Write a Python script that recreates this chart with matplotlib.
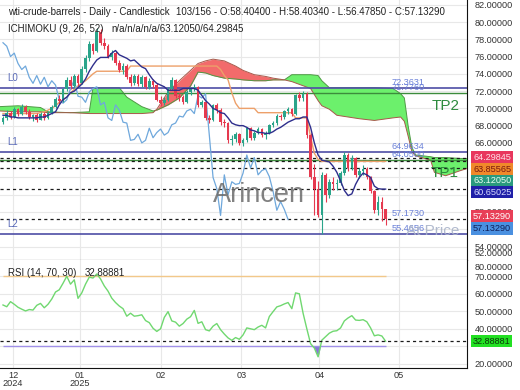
import numpy as np
import matplotlib
matplotlib.use("Agg")
import matplotlib.pyplot as plt

plt.rcParams["font.family"] = ["Liberation Sans", "DejaVu Sans"]

# -----------------------------
# Data (one entry per daily bar)
# -----------------------------
opens = [68.4, 68.9, 69.5, 69.0, 69.9, 69.3, 70.2, 69.6, 69.0, 69.2,
         68.7, 69.4, 68.9, 69.5, 70.2, 71.1, 70.8, 72.2, 73.3, 72.6,
         73.7, 72.9, 74.6, 75.8, 77.4, 76.6, 78.9, 77.6, 77.2, 76.0,
         76.4, 75.2, 74.5, 74.9, 73.6, 72.9, 73.8, 72.8, 73.6, 72.5,
         73.2, 72.7, 71.0, 70.6, 71.0, 72.3, 73.3, 71.4, 71.3, 70.7,
         71.9, 72.3, 72.5, 70.4, 70.7, 68.9, 68.6, 70.4, 69.8, 68.4,
         68.3, 66.3, 66.4, 67.0, 66.0, 66.3, 67.7, 66.6, 67.2, 67.6,
         66.9, 67.2, 68.1, 68.3, 69.1, 69.0, 69.7, 69.9, 69.4, 71.5,
         71.2, 71.7, 66.9, 62.0, 60.7, 57.6, 62.3, 60.0, 61.5, 61.2,
         61.3, 62.5, 64.6, 63.1, 64.3, 62.3, 62.8, 63.0, 62.1, 60.4,
         58.2, 59.2, 58.404]
highs = [69.1, 69.8, 69.7, 70.2, 70.1, 70.5, 70.4, 69.9, 69.4, 69.5,
         69.6, 69.6, 69.7, 70.4, 71.3, 71.5, 72.4, 73.6, 73.8, 74.0,
         74.0, 74.9, 76.2, 77.8, 77.6, 79.3, 79.2, 78.2, 77.5, 76.8,
         76.6, 75.6, 75.3, 75.1, 74.0, 74.0, 74.0, 73.9, 73.8, 73.5,
         73.4, 72.9, 71.4, 71.3, 72.5, 73.6, 73.4, 71.8, 71.5, 72.1,
         72.5, 72.8, 72.6, 71.0, 70.9, 69.2, 70.5, 70.6, 70.0, 68.8,
         68.4, 66.9, 67.3, 67.2, 66.6, 67.9, 67.8, 67.4, 67.9, 67.7,
         67.4, 68.2, 68.5, 69.3, 69.4, 69.8, 70.2, 70.1, 71.7, 71.9,
         72.0, 71.9, 67.1, 63.6, 61.6, 62.6, 62.5, 61.8, 62.0, 61.8,
         62.8, 64.9, 64.8, 64.6, 64.4, 63.1, 63.4, 63.2, 62.2, 60.6,
         59.8, 59.7, 58.404]
lows = [68.2, 68.7, 68.8, 68.9, 69.1, 69.2, 69.4, 68.8, 68.5, 68.4,
        68.6, 68.6, 68.8, 69.3, 70.0, 70.5, 70.7, 72.0, 72.3, 72.4,
        72.6, 72.8, 74.2, 75.5, 76.3, 76.5, 77.3, 76.9, 75.8, 75.6,
        75.0, 74.2, 74.0, 73.4, 72.6, 72.7, 72.6, 72.5, 72.3, 72.2,
        72.4, 70.8, 70.3, 70.4, 70.9, 72.1, 71.2, 70.9, 70.5, 70.6,
        71.6, 72.0, 70.2, 70.2, 68.7, 68.3, 68.5, 69.5, 68.1, 67.9,
        66.0, 65.8, 66.1, 65.7, 65.6, 66.1, 66.3, 66.3, 67.0, 66.7,
        66.5, 67.0, 67.9, 68.1, 68.6, 68.8, 69.4, 69.1, 69.2, 70.8,
        70.9, 66.6, 61.8, 57.6, 57.4, 55.4, 59.2, 59.6, 60.6, 60.6,
        61.1, 62.3, 62.8, 62.9, 62.1, 61.9, 62.3, 61.8, 60.2, 57.9,
        57.6, 57.0, 56.4785]
closes = [68.9, 69.5, 69.0, 69.9, 69.3, 70.2, 69.6, 69.0, 69.2, 68.7,
          69.4, 68.9, 69.5, 70.2, 71.1, 70.8, 72.2, 73.3, 72.6, 73.7,
          72.9, 74.6, 75.8, 77.4, 76.6, 78.9, 77.6, 77.2, 76.0, 76.4,
          75.2, 74.5, 74.9, 73.6, 72.9, 73.8, 72.8, 73.6, 72.5, 73.2,
          72.7, 71.0, 70.6, 71.0, 72.3, 73.3, 71.4, 71.3, 70.7, 71.9,
          72.3, 72.5, 70.4, 70.7, 68.9, 68.6, 70.4, 69.8, 68.4, 68.3,
          66.3, 66.4, 67.0, 66.0, 66.3, 67.7, 66.6, 67.2, 67.6, 66.9,
          67.2, 68.1, 68.3, 69.1, 69.0, 69.7, 69.9, 69.4, 71.5, 71.2,
          71.7, 66.9, 62.0, 60.7, 57.6, 62.3, 60.0, 61.5, 61.2, 61.3,
          62.5, 64.6, 63.1, 64.3, 62.3, 62.8, 63.0, 62.1, 60.4, 58.2,
          59.2, 58.3, 57.1329]

# Ichimoku lines
tenkan = [69.2, 69.2, 69.0, 69.0, 68.9, 68.9, 68.9, 68.9, 68.9, 68.9,
          69.0, 69.0, 69.2, 69.4, 69.6, 70.4, 71.0, 71.3, 71.8, 72.0,
          72.4, 72.8, 73.4, 74.3, 75.0, 75.6, 75.9, 75.9, 75.9, 76.4,
          76.7, 76.2, 76.0, 75.8, 75.5, 75.6, 75.2, 74.8, 74.6, 73.9,
          73.3, 72.9, 72.7, 72.5, 72.1, 72.1, 72.1, 72.1, 72.3, 72.3,
          72.3, 72.3, 72.1, 71.5, 70.9, 70.5, 70.0, 69.8, 69.5, 69.4,
          68.9, 68.3, 68.1, 68.0, 68.0, 67.8, 67.5, 67.4, 67.2, 67.2,
          67.1, 67.1, 67.3, 67.6, 67.8, 68.1, 68.4, 68.6, 68.8, 68.8,
          69.0, 69.0, 67.8, 66.0, 64.6, 64.0, 63.9, 63.8, 63.3, 62.6,
          61.6, 60.5, 59.9, 60.1, 61.2, 62.0, 62.5, 62.3, 62.0, 61.0,
          60.7, 60.65, 60.65]
kijun = [69.4, 69.4, 69.4, 69.4, 69.4, 69.4, 69.4, 69.4, 69.4, 69.4,
         69.5, 69.6, 69.8, 70.0, 70.3, 70.7, 71.0, 71.3, 71.8, 72.2,
         72.6, 72.9, 73.2, 73.6, 74.0, 74.3, 74.3, 74.3, 74.3, 74.3,
         74.3, 74.3, 74.3, 74.3, 74.9, 74.9, 74.9, 74.9, 74.9, 74.9,
         74.9, 74.9, 74.9, 74.9, 74.9, 74.9, 74.9, 74.9, 74.9, 74.9,
         74.9, 74.9, 74.9, 74.9, 74.9, 74.9, 74.9, 74.9, 74.5, 73.8,
         73.3, 71.8, 70.6, 70.0, 70.0, 70.0, 70.0, 70.0, 69.5, 69.5,
         69.5, 69.5, 69.5, 69.5, 69.5, 69.5, 69.5, 69.5, 68.9, 68.9,
         68.9, 68.9, 66.7, 64.8, 64.1, 63.86, 63.86, 63.86, 63.86, 63.86,
         63.86, 63.86, 63.86, 63.86, 63.86, 63.86, 63.86, 63.86, 63.86, 63.86,
         63.86, 63.86, 63.86]
chikou_shift = 26

# cloud (senkou spans), sampled at bar numbers, runs past the last bar
cloud_idx = [-1, 4, 10, 12, 18, 23, 24, 31, 33, 37,
             40, 41, 44, 47, 50, 52, 54, 56, 59, 62,
             64, 67, 70, 72, 75, 77, 82, 84, 85, 87,
             89, 95, 99, 104, 106, 107, 108, 109, 110, 114,
             115, 118, 122, 125]
span_a = [70.2, 70.3, 70.1, 69.6, 69.5, 69.6, 72.4, 72.4, 71.3, 70.2,
          69.7, 69.8, 70.4, 71.2, 72.6, 74.2, 74.1, 73.8, 73.5, 73.4,
          73.3, 73.2, 73.2, 73.3, 73.3, 73.9, 73.9, 73.8, 73.2, 72.4,
          72.4, 72.4, 72.4, 72.3, 71.7, 71.2, 68.0, 65.5, 64.6, 64.4,
          64.3, 64.3, 64.2, 64.2]
span_b = [69.7, 69.6, 69.6, 69.5, 69.5, 69.4, 69.4, 69.4, 69.4, 69.4,
          69.5, 69.9, 71.9, 73.2, 74.4, 75.2, 75.5, 75.7, 75.5, 74.9,
          74.4, 73.9, 73.7, 73.5, 73.3, 73.1, 72.3, 70.9, 70.3, 69.9,
          69.2, 68.8, 68.6, 68.9, 69.0, 68.5, 66.8, 65.0, 64.5, 64.0,
          62.6, 62.2, 62.8, 63.2]

rsi = [53.6, 52.6, 55.5, 54.0, 52.3, 51.2, 50.2, 51.0, 50.7, 53.4,
       54.5, 52.0, 54.0, 57.0, 61.0, 62.3, 66.0, 70.0, 65.5, 68.0,
       57.4, 60.5, 65.5, 69.5, 69.0, 71.3, 68.5, 64.5, 61.5, 57.5,
       55.0, 53.0, 51.5, 47.2, 48.9, 47.2, 47.5, 48.0, 44.7, 43.5,
       40.3, 38.5, 40.0, 46.5, 49.8, 44.5, 43.8, 41.5, 43.0, 45.5,
       46.9, 50.5, 43.1, 44.0, 39.5, 38.8, 41.5, 43.0, 39.5, 37.0,
       34.8, 33.4, 35.0, 34.0, 36.5, 40.5, 40.0, 39.5, 41.0, 42.0,
       40.5, 47.0, 49.8, 52.5, 53.2, 54.2, 55.0, 51.5, 60.5, 60.0,
       48.9, 40.0, 31.5, 29.0, 24.0, 33.5, 35.5, 37.5, 38.6, 38.9,
       40.5, 44.5, 46.2, 47.5, 45.0, 44.8, 45.2, 44.0, 40.5, 36.0,
       36.5, 35.9, 32.89]
rsi_last = 32.88881

# horizontal levels
level_names = ["L0", "L1", "L2"]
level_values = [72.3631, 64.9634, 55.4656]
tp_names = ["TP2", "TP1"]
tp_values = [71.7760, 64.0500]
at_price = 57.1730

# last indicator values (dashed lines + boxes on the price scale)
last_values = [64.29845, 63.85565, 63.12050, 60.65025, 57.13290, 57.13290]
last_colors = ["#e8365d", "#f0892a", "#2a9a7e", "#2020a8", "#e83f57", "#4a90e0"]
last_text = ["#ffe0e8", "#7a1a10", "#e8fff4", "#d8dcff", "#ffffff", "#10205a"]
last_nudge = [0, -8, -13, -3, 3, -9]

# price scale ticks; the ones under the value boxes are not printed
price_ticks = [54, 56, 58, 60, 62, 64, 66, 68, 70, 72, 74, 76, 78, 80, 82]
price_hidden = [56, 60, 62, 64]
rsi_ticks = [20, 30, 40, 50, 60, 70]
rsi_hidden = [30]

month_labels = ["12\n2024", "01\n2025", "02", "03", "04", "05"]
month_pos = [2.7, 20.5, 42.1, 63.5, 84.3, 105.6]

GREEN = "#2aa48a"
RED = "#e5394f"

# -----------------------------
# Figure layout
# -----------------------------
fig = plt.figure(figsize=(5.2, 3.9), dpi=100)
ax = fig.add_axes([0, 130 / 390, 467 / 520, 260 / 390])
ax2 = fig.add_axes([0, 22 / 390, 467 / 520, 108 / 390], sharex=ax)

idx = np.arange(len(closes))
o = np.array(opens)
h = np.array(highs)
l = np.array(lows)
c = np.array(closes)

# cloud
ci = np.array(cloud_idx)
a = np.array(span_a)
b = np.array(span_b)
ax.fill_between(ci, a, b, where=a >= b, interpolate=True,
                color="#6cf06c", lw=0, zorder=1)
ax.fill_between(ci, a, b, where=a < b, interpolate=True,
                color="#f26b6b", lw=0, zorder=1)
ax.plot(ci, a, color="#4f9a45", lw=0.7, zorder=2)
ax.plot(ci, b, color="#a8584a", lw=0.7, zorder=2)

# levels
for v in level_values:
    ax.axhline(v, color="#4e4ea6", lw=1.2, zorder=2.5)
for v in tp_values:
    ax.axhline(v, color="#3c8c3c", lw=1.0, zorder=2.5)
for v in last_values[:5]:
    ax.axhline(v, color="#1a1a1a", lw=0.9, ls=(0, (2.5, 2.5)), zorder=2.6)

# ichimoku lines
ax.plot(idx, kijun, color="#eda06a", lw=1.0, zorder=3)
ax.plot(idx[:len(c) - chikou_shift], c[chikou_shift:], color="#6fa8dc", lw=0.9, zorder=3)

# candles
col = np.where(c >= o, GREEN, RED)
ax.vlines(idx, l, h, colors=col, lw=0.8, zorder=4)
ax.bar(idx, np.maximum(np.abs(c - o), 0.08), bottom=np.minimum(o, c),
       width=0.7, color=col, lw=0, zorder=5)

ax.plot(idx, tenkan, color="#2e2e8c", lw=1.0, zorder=6)

# labels on the chart
for name, v in zip(level_names, level_values):
    ax.annotate(name, (1.0, v), xytext=(0, 5), textcoords="offset pixels",
                fontsize=7, color="#5a6ab8", va="bottom")
for v in level_values[:2] + tp_values + [at_price, level_values[2]]:
    ax.annotate(f"{v:.4f}", (103.7, v), xytext=(0, 1), textcoords="offset pixels",
                fontsize=6.6, color="#6a80d8", va="bottom")
for name, v, x in zip(tp_names, tp_values, [114.4, 114.0]):
    ax.annotate(name, (x, v), xytext=(0, -13), textcoords="offset pixels",
                fontsize=11, color="#2e8b3e", va="center")
ax.annotate("At Price", (107.5, at_price), xytext=(0, -12), textcoords="offset pixels",
            fontsize=11, color="#a9b3c9", va="center", alpha=0.9)
ax.text(56, 59.97, "Arincen", fontsize=19.5, color="#6b6b6b", alpha=0.85,
        va="center", zorder=7)

# value boxes on the price scale
for v, fc, tc, dy in zip(last_values, last_colors, last_text, last_nudge):
    ax.annotate(f"{v:.5f}", (1, v), xycoords=("axes fraction", "data"),
                xytext=(6, dy), textcoords="offset pixels", fontsize=6.6,
                color=tc, va="center", ha="left", annotation_clip=False, zorder=10,
                bbox=dict(boxstyle="square,pad=0.18", fc=fc, ec="none"))

ax.set_xlim(-0.8, 123.7)
ax.set_ylim(52.44, 82.55)
ax.yaxis.tick_right()
ax.set_yticks(price_ticks)
ax.set_yticklabels(["" if t in price_hidden else f"{t:.5f}" for t in price_ticks])
ax.tick_params(axis="y", length=0, pad=5.5, labelsize=6.6, labelcolor="#333333")
ax.tick_params(axis="x", length=0, labelbottom=False)
ax.grid(True, color="#e8e8e8", lw=0.8)
ax.set_axisbelow(True)
for s in ["top", "left"]:
    ax.spines[s].set_visible(False)
ax.spines["right"].set_color("#111111")
ax.spines["bottom"].set_color("#111111")
fig.text(475 / 520, 1 - 254 / 390, "52.00000", fontsize=6.6, color="#333333", va="center")

# -----------------------------
# RSI panel
# -----------------------------
r = np.array(rsi)
ax2.hlines(70, idx[0], idx[-1], color="#f2c88a", lw=1.0)
ax2.hlines(30, idx[0], idx[-1], color="#a090e8", lw=1.0)
ax2.fill_between(idx, r, 30, where=r < 30, interpolate=True, color="#8878d8", lw=0)
ax2.plot(idx, r, color="#70d870", lw=1.0)
ax2.axhline(rsi_last, color="#1a1a1a", lw=0.9, ls=(0, (2.5, 2.5)))
ax2.annotate(f"{rsi_last:.5f}", (1, rsi_last), xycoords=("axes fraction", "data"),
             xytext=(6, 0), textcoords="offset pixels", fontsize=6.6, color="#0a3a0a",
             va="center", ha="left", annotation_clip=False, zorder=10,
             bbox=dict(boxstyle="square,pad=0.18", fc="#22e022", ec="none"))

ax2.set_ylim(17.6, 79.3)
ax2.yaxis.tick_right()
ax2.set_yticks(rsi_ticks)
ax2.set_yticklabels(["" if t in rsi_hidden else f"{t:.5f}" for t in rsi_ticks])
ax2.tick_params(axis="y", length=0, pad=5.5, labelsize=6.6, labelcolor="#333333")
ax2.set_xticks(month_pos)
ax2.set_xticklabels(month_labels)
ax2.tick_params(axis="x", length=0, pad=2, labelsize=6.6, labelcolor="#333333")
for lab in ax2.get_xticklabels():
    lab.set_linespacing(0.95)
ax2.grid(True, color="#e8e8e8", lw=0.8)
ax2.set_axisbelow(True)
for s in ["top", "left"]:
    ax2.spines[s].set_visible(False)
ax2.spines["right"].set_color("#111111")
ax2.spines["bottom"].set_color("#111111")
fig.text(475 / 520, 1 - 267 / 390, "80.00000", fontsize=6.6, color="#333333", va="center")

# header texts
fig.text(8 / 520, 1 - 12 / 390, "wti-crude-barrels - Daily - Candlestick",
         fontsize=7, color="#222222", va="center")
fig.text(176 / 520, 1 - 12 / 390, "103/156 - O:58.40400 - H:58.40340 - L:56.47850 - C:57.13290",
         fontsize=7, color="#222222", va="center")
fig.text(8 / 520, 1 - 29 / 390, "ICHIMOKU (9, 26, 52)", fontsize=7, color="#222222", va="center")
fig.text(111 / 520, 1 - 29 / 390, "n/a/n/a/n/a/63.12050/64.29845", fontsize=7,
         color="#222222", va="center")
fig.text(8 / 520, 1 - 273 / 390, "RSI (14, 70, 30)", fontsize=7, color="#222222", va="center")
fig.text(85 / 520, 1 - 273 / 390, "32.88881", fontsize=7, color="#222222", va="center")

fig.savefig("out.png", dpi=100)
